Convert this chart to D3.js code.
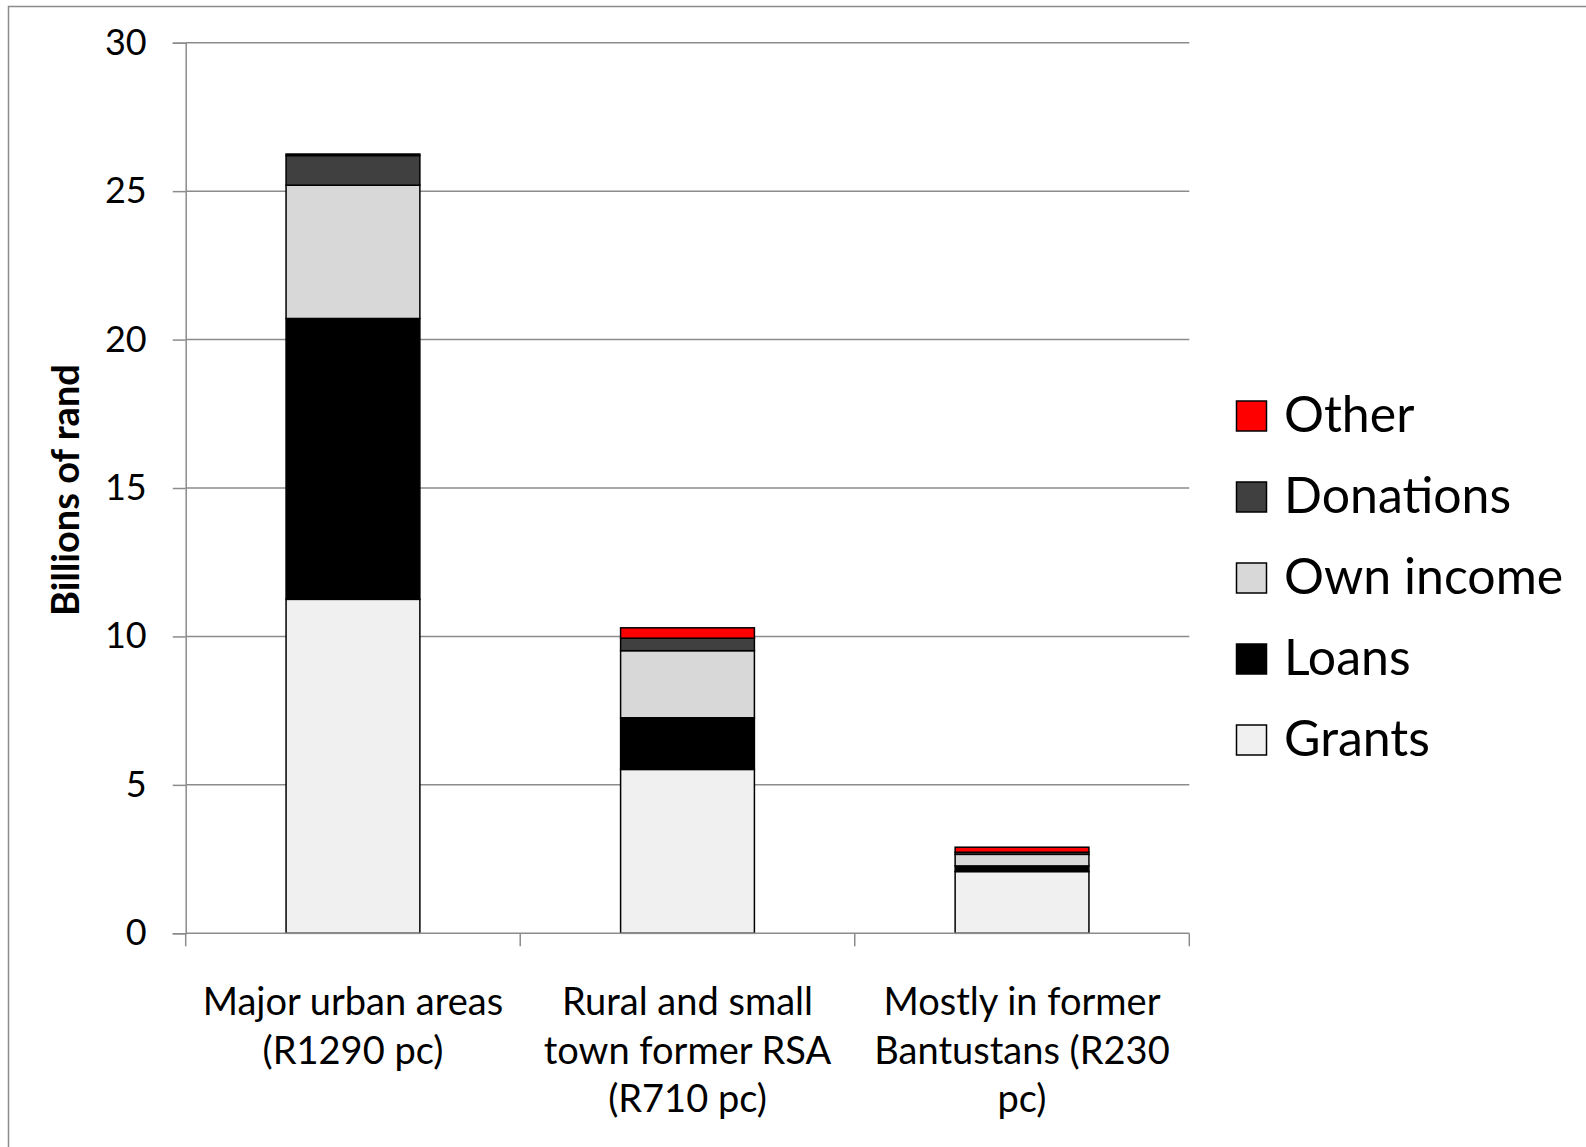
<!DOCTYPE html>
<html>
<head>
<meta charset="utf-8">
<script src="https://cdn.jsdelivr.net/npm/d3@7"></script>
<style>
  html, body { margin: 0; padding: 0; background: #fff; }
  svg { display: block; }
  text { font-family: Lato, "Open Sans", sans-serif; fill: #000; }
</style>
</head>
<body>
<svg id="chart" width="1586" height="1147"></svg>
<script>
// categories and their wrapped labels
const categories = ["urban", "rural", "bantustans"];
const categoryLabels = [
	["Major urban areas", "(R1290 pc)"],
	["Rural and small", "town former RSA", "(R710 pc)"],
	["Mostly in former", "Bantustans (R230", "pc)"]
];

// series, bottom to top (billions of rand)
const seriesNames = ["Grants", "Loans", "Own income", "Donations", "Other"];
const grants = [11.25, 5.52, 2.08];
const loans = [9.46, 1.74, 0.19];
const ownIncome = [4.49, 2.26, 0.39];
const donations = [1.0, 0.42, 0.07];
const other = [0.05, 0.35, 0.17];
const seriesColors = ["#f0f0f0", "#000000", "#d8d8d8", "#404040", "#ff0000"];

const yTicks = [0, 5, 10, 15, 20, 25, 30];

const svg = d3.select("#chart");

// outer frame (only left and top edges visible)
svg.append("rect")
	.attr("x", 8.5).attr("y", 6.5)
	.attr("width", 1600).attr("height", 1200)
	.attr("fill", "none")
	.attr("stroke", "#8c8c8c")
	.attr("stroke-width", 1.5);

const plot = { left: 185.7, right: 1189.3, top: 42.7, bottom: 933.3 };

const x = d3.scaleBand()
	.domain(categories)
	.range([plot.left, plot.right])
	.paddingInner(0.6)
	.paddingOuter(0.3);

const y = d3.scaleLinear()
	.domain([0, 30])
	.range([plot.bottom, plot.top]);

// gridlines
svg.append("g")
	.selectAll("line")
	.data(yTicks.filter(d => d > 0))
	.enter().append("line")
		.attr("x1", plot.left)
		.attr("x2", plot.right)
		.attr("y1", d => y(d))
		.attr("y2", d => y(d))
		.attr("stroke", "#8c8c8c")
		.attr("stroke-width", 1.5);

// y axis
const yAxis = svg.append("g")
	.attr("transform", "translate(" + plot.left + ",0)")
	.call(d3.axisLeft(y).tickValues(yTicks).tickSize(13).tickPadding(26));
yAxis.select(".domain").attr("stroke", "#8c8c8c").attr("stroke-width", 1.5);
yAxis.selectAll(".tick line").attr("stroke", "#8c8c8c").attr("stroke-width", 1.5);
yAxis.selectAll(".tick text")
	.style("font-family", "Lato, 'Open Sans', sans-serif")
	.style("font-size", "36px")
	.attr("fill", "#000");

// stacked bars
const table = categories.map((c, i) => ({
	cat: c,
	Grants: grants[i],
	Loans: loans[i],
	"Own income": ownIncome[i],
	Donations: donations[i],
	Other: other[i]
}));
const stacked = d3.stack().keys(seriesNames)(table);

svg.append("g")
	.selectAll("g")
	.data(stacked)
	.enter().append("g")
		.attr("fill", (d, i) => seriesColors[i])
	.selectAll("rect")
	.data(d => d)
	.enter().append("rect")
		.attr("x", d => x(d.data.cat))
		.attr("width", x.bandwidth())
		.attr("y", d => y(d[1]))
		.attr("height", d => y(d[0]) - y(d[1]))
		.attr("stroke", "#000")
		.attr("stroke-width", 1.5);

// x axis line and ticks at band boundaries
const xBounds = [plot.left].concat(categories.map(c => x(c) - x.step() * x.paddingInner() / 2 + x.step()));
xBounds[xBounds.length - 1] = plot.right;
const xAxis = svg.append("g");
xAxis.append("line")
	.attr("x1", plot.left).attr("x2", plot.right)
	.attr("y1", plot.bottom).attr("y2", plot.bottom)
	.attr("stroke", "#8c8c8c").attr("stroke-width", 1.5);
xAxis.selectAll("line.tick")
	.data(xBounds)
	.enter().append("line")
		.attr("class", "tick")
		.attr("x1", d => d).attr("x2", d => d)
		.attr("y1", plot.bottom).attr("y2", plot.bottom + 13)
		.attr("stroke", "#8c8c8c").attr("stroke-width", 1.5);

// category labels
categories.forEach((c, i) => {
	const t = svg.append("text")
		.attr("text-anchor", "middle")
		.style("font-size", "38px");
	categoryLabels[i].forEach((line, j) => {
		t.append("tspan")
			.attr("x", x(c) + x.bandwidth() / 2)
			.attr("y", 1015 + j * 48.5)
			.text(line);
	});
});

// y axis title
svg.append("text")
	.attr("transform", "translate(79,490) rotate(-90)")
	.attr("text-anchor", "middle")
	.style("font-size", "38px")
	.style("font-weight", "bold")
	.text("Billions of rand");

// legend, top to bottom
const legendItems = seriesNames.map((n, i) => ({ name: n, color: seriesColors[i] })).reverse();
const legend = svg.append("g")
	.selectAll("g")
	.data(legendItems)
	.enter().append("g")
		.attr("transform", (d, i) => "translate(1236," + (416 + i * 81) + ")");
legend.append("rect")
	.attr("x", 0.5).attr("y", -15)
	.attr("width", 30).attr("height", 30)
	.attr("fill", d => d.color)
	.attr("stroke", "#000")
	.attr("stroke-width", 1.5);
legend.append("text")
	.attr("x", 48)
	.attr("y", 16)
	.style("font-size", "50px")
	.text(d => d.name);
</script>
</body>
</html>
